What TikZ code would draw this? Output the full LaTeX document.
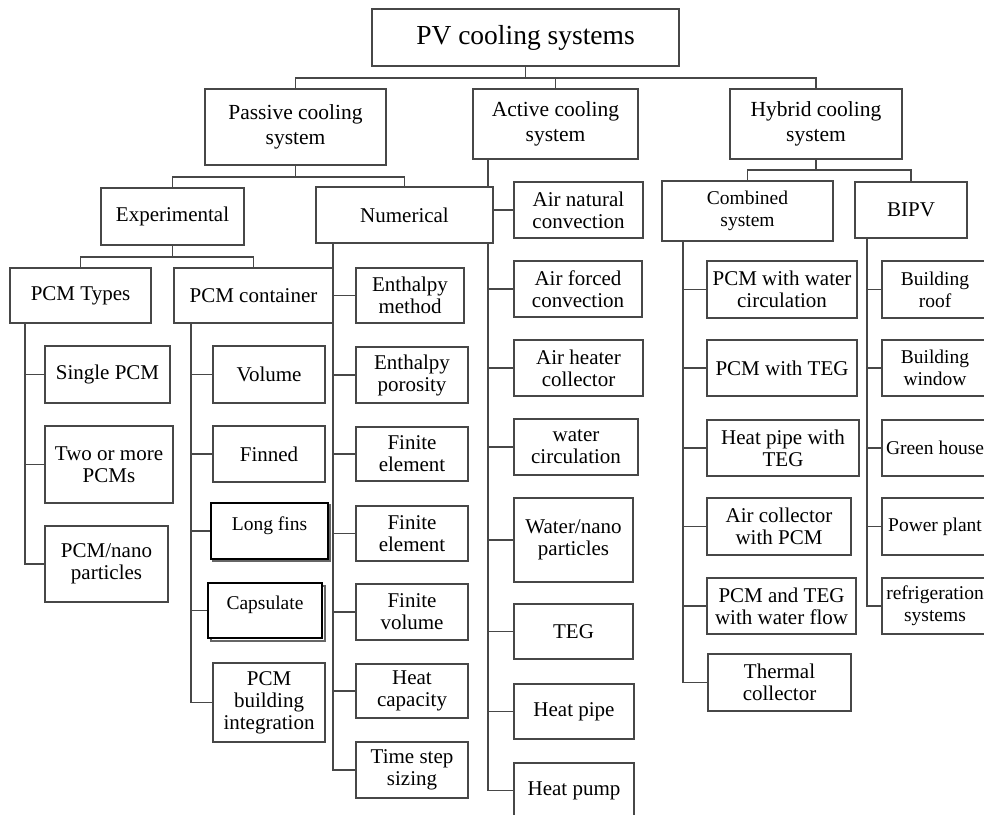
\documentclass[tikz,border=0pt]{standalone}
\usepackage{fontspec}
\setmainfont{Liberation Serif}
\usetikzlibrary{backgrounds}
\tikzset{
  box/.style={draw=black!72, line width=1.4pt, fill=white, inner sep=0pt, outer sep=0pt,
    align=center, font=\fontsize{21}{22}\selectfont, text=black},
  top/.style={font=\fontsize{21.5}{25}\selectfont},
  sbox/.style={box, draw=black, line width=1.6pt, font=\fontsize{19.5}{21}\selectfont, text=black},
  edge/.style={font=\fontsize{19.5}{22}\selectfont},
  conn/.style={draw=black!72, line width=1.4pt},
  shad/.style={draw=black!60, line width=1.2pt, fill=white}
}
\newcommand\bx[6][]{\node[box,#1,minimum width={(#4-#2)*1pt},minimum height={(#5-#3)*1pt}] (#6) at ({(#2+#4)/2},{(#3+#5)/2})}
\begin{document}
\begin{tikzpicture}[x=1pt,y=-1pt]
\useasboundingbox (0,0) rectangle (984,814);
\clip (0,0) rectangle (984,814);
% level 0-1
\bx[font=\fontsize{27.5}{29}\selectfont]{372}{9}{679}{66}{root}{PV cooling systems};
\bx[top]{205}{89}{386}{165}{passive}{Passive cooling\\system};
\bx[top]{473}{89}{638}{159}{active}{Active cooling\\system};
\bx[top]{730}{89}{902}{159}{hybrid}{Hybrid cooling\\system};
% level 2
\bx{101}{188}{244}{245}{exp}{Experimental};
\bx{316}{187}{493}{243}{num}{Numerical};
\bx[font=\fontsize{19.5}{22}\selectfont]{662}{181}{833}{241}{comb}{Combined\\system};
\bx{855}{182}{967}{238}{bipv}{BIPV};
% level 3
\bx{10}{268}{151}{323}{types}{PCM Types};
\bx{174}{268}{333}{323}{cont}{PCM container};
% PCM types children
\bx{45}{346}{170}{403}{single}{Single PCM};
\bx{45}{426}{173}{503}{two}{Two or more\\PCMs};
\bx{45}{526}{168}{602}{nano}{PCM/nano\\particles};
% PCM container children
\bx{213}{346}{325}{403}{vol}{Volume};
\bx{213}{426}{325}{482}{fin}{Finned};
\bx[sbox]{211}{503}{328}{559}{long}{\raisebox{1pt}[0pt][0pt]{Long fins}};
\bx[sbox]{208}{583}{322}{638}{caps}{\raisebox{1pt}[0pt][0pt]{Capsulate}};
\bx{213}{663}{325}{742}{bint}{PCM\\building\\integration};
% Numerical children
\bx{356}{268}{464}{323}{em}{Enthalpy\\method};
\bx{356}{347}{468}{403}{ep}{Enthalpy\\porosity};
\bx{356}{427}{468}{481}{fea}{Finite\\element};
\bx{356}{506}{468}{561}{feb}{Finite\\element};
\bx{356}{584}{468}{640}{fv}{Finite\\volume};
\bx{356}{664}{468}{718}{hc}{Heat\\capacity};
\bx{356}{742}{468}{798}{ts}{Time step\\sizing};
% Active children
\bx{514}{182}{643}{238}{an}{Air natural\\convection};
\bx{514}{261}{642}{317}{af}{Air forced\\convection};
\bx{514}{340}{643}{396}{ah}{Air heater\\collector};
\bx{514}{419}{638}{475}{wc}{water\\circulation};
\bx{514}{498}{633}{582}{wn}{Water/nano\\particles};
\bx{514}{604}{633}{659}{teg}{TEG};
\bx{514}{684}{634}{739}{hp}{Heat pipe};
\bx{514}{763}{634}{818}{hpu}{Heat pump};
% Combined children
\bx{707}{261}{857}{318}{ca}{PCM with water\\circulation};
\bx{707}{340}{857}{396}{cb}{PCM with TEG};
\bx{707}{420}{859}{476}{cc}{Heat pipe with\\TEG};
\bx{707}{498}{851}{555}{cd}{Air collector\\with PCM};
\bx{707}{578}{856}{634}{ce}{PCM and TEG\\with water flow};
\bx{708}{654}{851}{711}{cf}{Thermal\\collector};
% BIPV children
\bx[edge]{882}{261}{988}{318}{ba}{Building\\roof};
\bx[edge]{882}{340}{988}{396}{bb}{Building\\window};
\bx[edge]{882}{420}{988}{476}{bc}{Green house};
\bx[edge]{882}{498}{988}{555}{bd}{Power plant};
\bx[edge]{882}{578}{988}{634}{be}{refrigeration\\systems};

\begin{pgfonlayer}{background}
% top level
\draw[conn] (root.south) -- ++(0,12) -| (passive.north);
\draw[conn] (root.south) ++(0,12) -| (hybrid.north);
\draw[conn] (root.south) ++(0,12) -| (active.north);
% passive
\draw[conn] (passive.south) -- ++(0,12) -| (exp.north);
\draw[conn] (passive.south) ++(0,12) -| (num.north);
% experimental
\draw[conn] (exp.south) -- ++(0,12) -| (types.north);
\draw[conn] (exp.south) ++(0,12) -| (cont.north);
% hybrid
\draw[conn] (hybrid.south) -- ++(0,11) -| (comb.north);
\draw[conn] (hybrid.south) ++(0,11) -| (bipv.north);
% trunks
\foreach \c in {single,two,nano} \draw[conn] ([xshift=15pt]types.south west) |- (\c.west);
\foreach \c in {vol,fin,long,caps,bint} \draw[conn] ([xshift=17pt]cont.south west) |- (\c.west);
\foreach \c in {em,ep,fea,feb,fv,hc,ts} \draw[conn] ([xshift=17pt]num.south west) |- (\c.west);
\foreach \c in {an,af,ah,wc,wn,teg,hp,hpu} \draw[conn] ([xshift=15pt]active.south west) |- (\c.west);
\foreach \c in {ca,cb,cc,cd,ce,cf} \draw[conn] ([xshift=21pt]comb.south west) |- (\c.west);
\foreach \c in {ba,bb,bc,bd,be} \draw[conn] ([xshift=12pt]bipv.south west) |- (\c.west);
% shadows
\draw[shad] ([shift={(2,2)}]long.north west) rectangle ([shift={(2,2)}]long.south east);
\draw[shad] ([shift={(3,3)}]caps.north west) rectangle ([shift={(3,3)}]caps.south east);
\end{pgfonlayer}
\end{tikzpicture}
\end{document}
